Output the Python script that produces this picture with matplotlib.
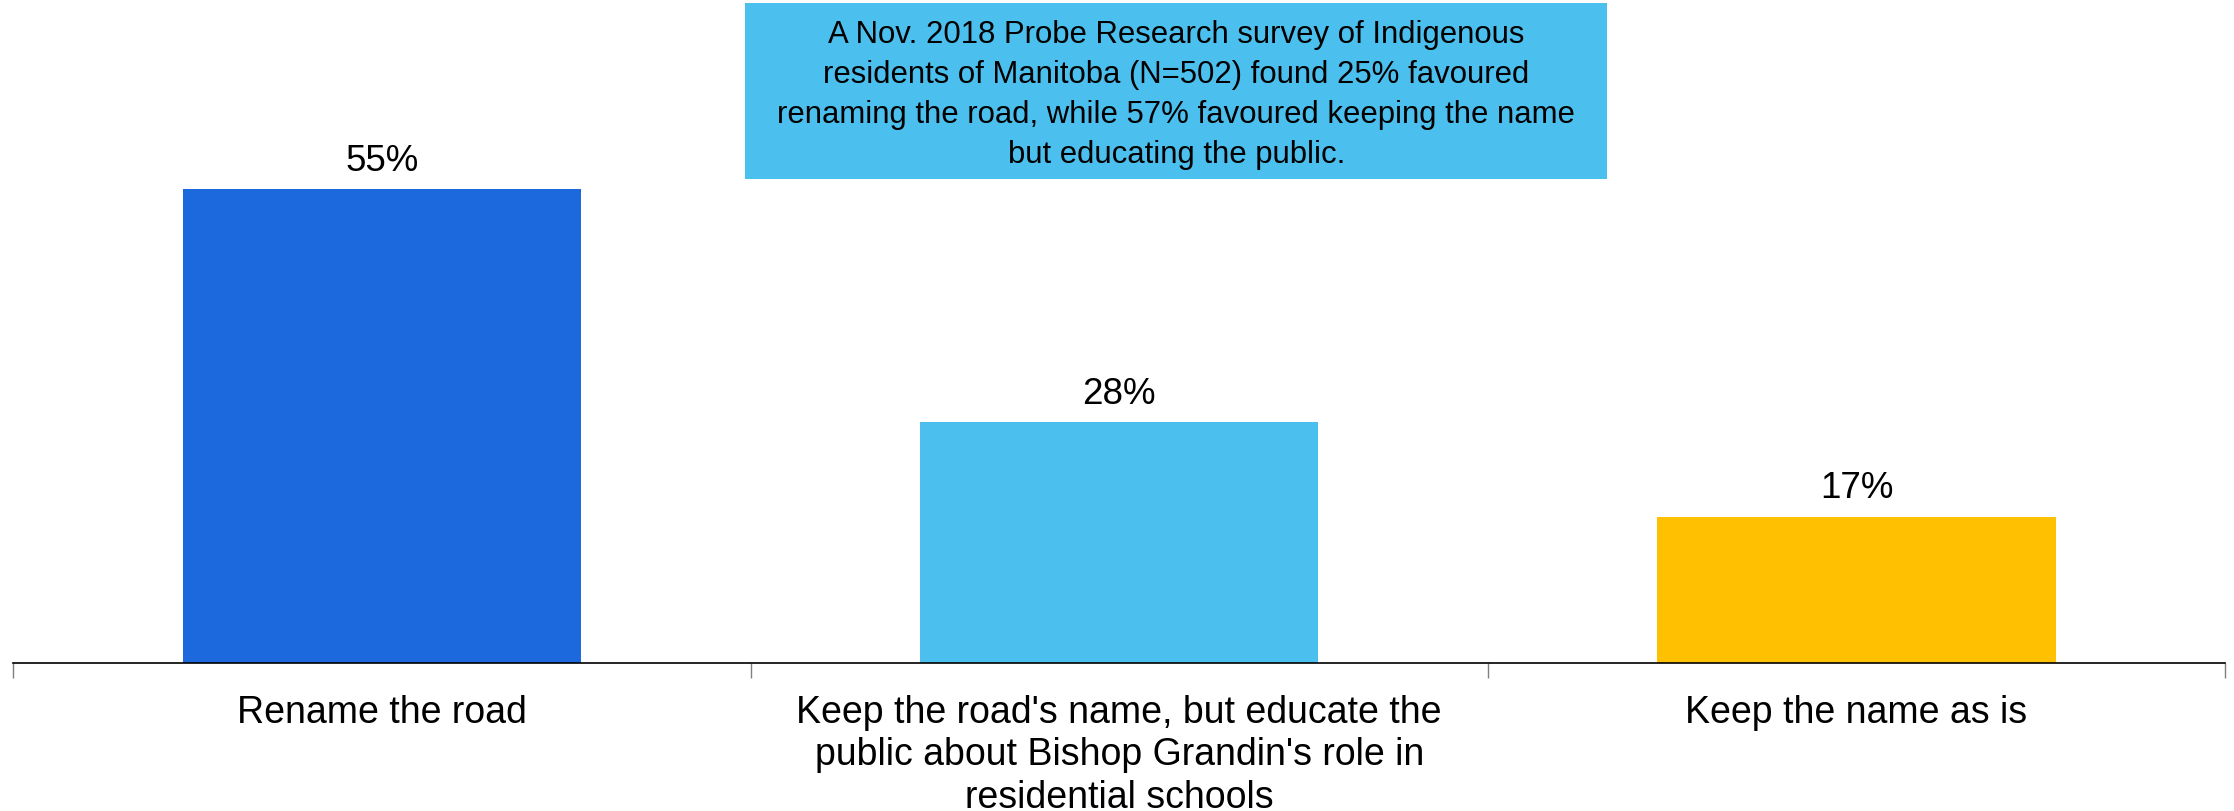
import matplotlib
matplotlib.use("Agg")
import matplotlib.pyplot as plt
from matplotlib.patches import Rectangle

plt.rcParams['font.family'] = ['Liberation Sans', 'DejaVu Sans']

# données
categories = ["Rename the road",
              "Keep the road's name, but educate the\npublic about Bishop Grandin's role in\nresidential schools",
              "Keep the name as is"]
values = [55, 28, 17]
colors = ["#1C69DE", "#4BC0EF", "#FEC000"]
note = ("A Nov. 2018 Probe Research survey of Indigenous\n"
        "residents of Manitoba (N=502) found 25% favoured\n"
        "renaming the road, while 57% favoured keeping the name\n"
        "but educating the public.")

fig = plt.figure(figsize=(22.34, 8.12), dpi=100)
ax = fig.add_axes([0.006, 0.182, 0.99, 0.818])

x = range(len(values))
bars = ax.bar(x, values, width=0.54, color=colors)
for b, v in zip(bars, values):
    ax.annotate(f"{v}%", (b.get_x() + b.get_width() / 2, v), xytext=(0, 8),
                textcoords="offset points", ha="center", va="bottom", fontsize=26.5)

ax.set_xlim(-0.5, 2.5)
ax.set_ylim(0, 77)
ax.set_yticks([])
for s in ["left", "right", "top"]:
    ax.spines[s].set_visible(False)
ax.spines["bottom"].set_linewidth(1.2)

ax.set_xticks(list(x))
ax.set_xticklabels(categories, fontsize=27, linespacing=1.24)
ax.tick_params(axis="x", which="major", length=0, pad=22)
ax.set_xticks([-0.5, 0.5, 1.5, 2.5], minor=True)
ax.tick_params(axis="x", which="minor", length=11, color="#7f7f7f", width=1)

# encadré
fig.patches.append(Rectangle((0.3335, 0.778), 0.386, 0.217, transform=fig.transFigure,
                             facecolor="#4BC0EF", edgecolor="none", zorder=0))
fig.text(0.5265, 0.883, note, ha="center", va="center", fontsize=22.4, linespacing=1.43)

fig.savefig("out.png", dpi=100)
